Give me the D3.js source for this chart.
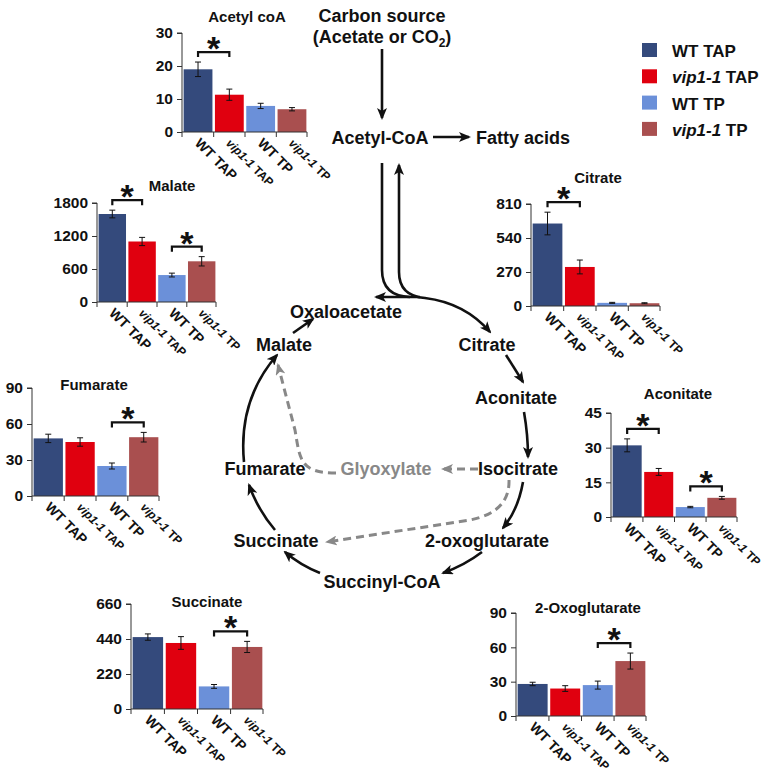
<!DOCTYPE html>
<html><head><meta charset="utf-8">
<script src="https://cdn.jsdelivr.net/npm/d3@7"></script>
<style>
body{margin:0;background:#fff;}
svg{display:block;font-family:"Liberation Sans",Arial,Helvetica,sans-serif;}
</style></head>
<body>
<svg id="c" width="768" height="775"></svg>
<script>
// ---------- DATA ----------
const groups = ["WT TAP", "vip1-1 TAP", "WT TP", "vip1-1 TP"];
const colors = ["#344a7c", "#e0000f", "#6b90d9", "#a94f4f"];

const acetylMeans = [19, 11.3, 7.9, 6.9];
const acetylErr   = [2.2, 1.7, 0.8, 0.5];
const acetylTicks = [0, 10, 20, 30];
const acetylSig   = [[0, 1]];

const malateMeans = [1600, 1100, 490, 740];
const malateErr   = [70, 75, 35, 85];
const malateTicks = [0, 600, 1200, 1800];
const malateSig   = [[0, 1], [2, 3]];

const citrateMeans = [655, 310, 25, 22];
const citrateErr   = [90, 55, 4, 4];
const citrateTicks = [0, 270, 540, 810];
const citrateSig   = [[0, 1]];

const fumarateMeans = [48, 45, 25, 49];
const fumarateErr   = [3.5, 3.5, 2.5, 4];
const fumarateTicks = [0, 30, 60, 90];
const fumarateSig   = [[2, 3]];

const aconitateMeans = [31, 19.5, 4.3, 8.3];
const aconitateErr   = [2.8, 1.5, 0.3, 0.6];
const aconitateTicks = [0, 15, 30, 45];
const aconitateSig   = [[0, 1], [2, 3]];

const succinateMeans = [452, 415, 142, 390];
const succinateErr   = [20, 40, 12, 35];
const succinateTicks = [0, 220, 440, 660];
const succinateSig   = [[2, 3]];

const oxoMeans = [28, 24, 27, 48];
const oxoErr   = [1.5, 2.5, 3.5, 7];
const oxoTicks = [0, 30, 60, 90];
const oxoSig   = [[2, 3]];

// ---------- LAYOUT ----------
const panels = [
  {title:"Acetyl coA", m:acetylMeans, e:acetylErr, t:acetylTicks, s:acetylSig, x0:182, x1:307, y0:132, yT:33, tx:247, ty:22},
  {title:"Malate", m:malateMeans, e:malateErr, t:malateTicks, s:malateSig, x0:97, x1:216, y0:302, yT:203, tx:172, ty:191},
  {title:"Citrate", m:citrateMeans, e:citrateErr, t:citrateTicks, s:citrateSig, x0:531, x1:660, y0:306, yT:204, tx:598, ty:183},
  {title:"Fumarate", m:fumarateMeans, e:fumarateErr, t:fumarateTicks, s:fumarateSig, x0:32, x1:159, y0:496, yT:388, tx:94, ty:390},
  {title:"Aconitate", m:aconitateMeans, e:aconitateErr, t:aconitateTicks, s:aconitateSig, x0:611, x1:737, y0:517, yT:413, tx:678, ty:399},
  {title:"Succinate", m:succinateMeans, e:succinateErr, t:succinateTicks, s:succinateSig, x0:131, x1:263, y0:709, yT:604, tx:207, ty:607},
  {title:"2-Oxoglutarate", m:oxoMeans, e:oxoErr, t:oxoTicks, s:oxoSig, x0:516, x1:646, y0:716, yT:613, tx:588, ty:613}
];

const svg = d3.select("#c");

function drawPanel(p) {
  const g = svg.append("g");
  const x = d3.scaleBand().domain(groups).range([p.x0 + 1, p.x1]).paddingInner(0.08).paddingOuter(0.02);
  const y = d3.scaleLinear().domain([0, d3.max(p.t)]).range([p.y0, p.yT]);

  g.selectAll("rect.bar").data(p.m).join("rect")
    .attr("x", (d, i) => x(groups[i]))
    .attr("y", d => y(d))
    .attr("width", x.bandwidth())
    .attr("height", d => y(0) - y(d))
    .attr("fill", (d, i) => colors[i]);

  p.m.forEach((d, i) => {
    const cx = x(groups[i]) + x.bandwidth() / 2;
    const top = y(d + p.e[i]), bot = y(d - p.e[i]);
    g.append("line").attr("x1", cx).attr("x2", cx).attr("y1", top).attr("y2", bot).attr("stroke", "#111").attr("stroke-width", 1);
    [top, bot].forEach(yy => g.append("line").attr("x1", cx - 3).attr("x2", cx + 3).attr("y1", yy).attr("y2", yy).attr("stroke", "#111").attr("stroke-width", 1));
  });

  const yAxis = d3.axisLeft(y).tickValues(p.t).tickSize(5).tickPadding(4).tickFormat(d3.format("d"));
  const ya = g.append("g").attr("transform", `translate(${p.x0},0)`).call(yAxis);
  ya.select(".domain").attr("stroke", "#333").attr("d", `M-5,${y(d3.max(p.t))}H0V${p.y0}`);
  ya.selectAll(".tick line").attr("stroke", "#333");
  ya.selectAll(".tick text").attr("font-size", 15.5).attr("font-weight", "bold").attr("fill", "#111").attr("font-family", "Liberation Sans, Arial, sans-serif");

  g.append("line").attr("x1", p.x0).attr("x2", p.x1).attr("y1", p.y0).attr("y2", p.y0).attr("stroke", "#333");
  const bounds = [p.x0].concat(groups.map(gr => x(gr) + x.bandwidth() + x.step() * x.paddingInner() / 2));
  bounds[bounds.length - 1] = p.x1;
  bounds.forEach(bx => g.append("line").attr("x1", bx).attr("x2", bx).attr("y1", p.y0).attr("y2", p.y0 + 5).attr("stroke", "#333"));

  groups.forEach((gr, i) => {
    const cx = x(gr) + x.bandwidth() / 2 - 4;
    const ty = p.y0 + 12;
    const t = g.append("text").attr("transform", `translate(${cx},${ty}) rotate(45)`).attr("font-weight", "bold").attr("fill", "#111");
    if (gr.startsWith("vip")) {
      t.attr("font-size", 12);
      t.append("tspan").attr("font-style", "italic").text("vip1-1");
      t.append("tspan").text(gr.replace("vip1-1", ""));
    } else {
      t.attr("font-size", 14).text(gr);
    }
  });

  g.append("text").attr("x", p.tx).attr("y", p.ty).attr("text-anchor", "middle").attr("font-size", 15).attr("font-weight", "bold").attr("fill", "#111").text(p.title);

  p.s.forEach(([a, b]) => {
    const xa = x(groups[a]) + x.bandwidth() / 2, xb = x(groups[b]) + x.bandwidth() / 2;
    const by = Math.min(y(p.m[a] + p.e[a]), y(p.m[b] + p.e[b])) - 10;
    g.append("path").attr("d", `M${xa},${by + 5}V${by}H${xb}V${by + 5}`).attr("fill", "none").attr("stroke", "#111").attr("stroke-width", 2.2);
    g.append("text").attr("x", (xa + xb) / 2).attr("y", by + 8).attr("text-anchor", "middle").attr("font-size", 34).attr("font-weight", "bold").attr("fill", "#111").text("*");
  });
}
panels.forEach(drawPanel);

// ---------- LEGEND ----------
const leg = svg.append("g");
groups.forEach((gr, i) => {
  const yy = 43 + i * 26.3;
  leg.append("rect").attr("x", 642).attr("y", yy).attr("width", 15).attr("height", 14).attr("fill", colors[i]);
  const t = leg.append("text").attr("x", 672).attr("y", yy + 14).attr("font-size", 17).attr("font-weight", "bold").attr("fill", "#111");
  if (gr.startsWith("vip")) {
    t.append("tspan").attr("font-style", "italic").text("vip1-1");
    t.append("tspan").text(gr.replace("vip1-1", ""));
  } else t.text(gr);
});

// ---------- PATHWAY DIAGRAM ----------
const defs = svg.append("defs");
function marker(id, color) {
  defs.append("marker").attr("id", id).attr("viewBox", "0 0 12 10").attr("refX", 10).attr("refY", 5)
    .attr("markerWidth", 12).attr("markerHeight", 10).attr("markerUnits", "userSpaceOnUse").attr("orient", "auto")
    .append("path").attr("d", "M0,0 L12,5 L0,10 L3,5 Z").attr("fill", color);
}
marker("ab", "#111");
marker("ag", "#888");

const labels = [
  {t:"Carbon source", x:382, y:22},
  {t:"Acetyl-CoA", x:380, y:144},
  {t:"Fatty acids", x:523, y:144},
  {t:"Oxaloacetate", x:346, y:318},
  {t:"Malate", x:284, y:351},
  {t:"Citrate", x:487, y:351},
  {t:"Aconitate", x:516, y:404},
  {t:"Isocitrate", x:518, y:475},
  {t:"Fumarate", x:265, y:475},
  {t:"Succinate", x:276, y:547},
  {t:"2-oxoglutarate", x:487, y:547},
  {t:"Succinyl-CoA", x:382, y:588}
];
const dg = svg.append("g").attr("font-size", 18).attr("font-weight", "bold").attr("fill", "#111").attr("text-anchor", "middle");
labels.forEach(l => dg.append("text").attr("x", l.x).attr("y", l.y).text(l.t));
const co2 = dg.append("text").attr("x", 382).attr("y", 43);
co2.append("tspan").text("(Acetate or CO");
co2.append("tspan").attr("font-size", 12).attr("dy", 4).text("2");
co2.append("tspan").attr("dy", -4).text(")");
dg.append("text").attr("x", 386).attr("y", 475).attr("fill", "#888").text("Glyoxylate");

const blackPaths = [
  ["M382,49 L382,118", true],
  ["M433,137 L469,137", true],
  ["M382,163 L382,270 Q382,296 410,297", false],
  ["M420,297 L376,297", true],
  ["M399,272 L399,165", true],
  ["M399,272 Q399,296 425,298 Q465,303 490,332", true],
  ["M293,333 L313,319", true],
  ["M506,355 L523,382", true],
  ["M524,412 Q528,435 528,457", true],
  ["M523,482 Q518,510 503,528", true],
  ["M482,552 Q465,565 443,573", true],
  ["M320,573 Q300,565 285,552", true],
  ["M275,530 Q258,510 249,485", true],
  ["M244,462 Q238,400 277,355", true]
];
blackPaths.forEach(([d, arr]) => {
  const p = svg.append("path").attr("d", d).attr("fill", "none").attr("stroke", "#111").attr("stroke-width", 2.6);
  if (arr) p.attr("marker-end", "url(#ab)");
});
const grayPaths = [
  "M478,469 L443,469",
  "M336,473 C300,473 300,460 295,430 L278,365",
  "M509,480 Q510,512 470,520 L327,542"
];
grayPaths.forEach(d => svg.append("path").attr("d", d).attr("fill", "none").attr("stroke", "#888").attr("stroke-width", 3).attr("stroke-dasharray", "8,5").attr("marker-end", "url(#ag)"));
</script>
</body></html>
